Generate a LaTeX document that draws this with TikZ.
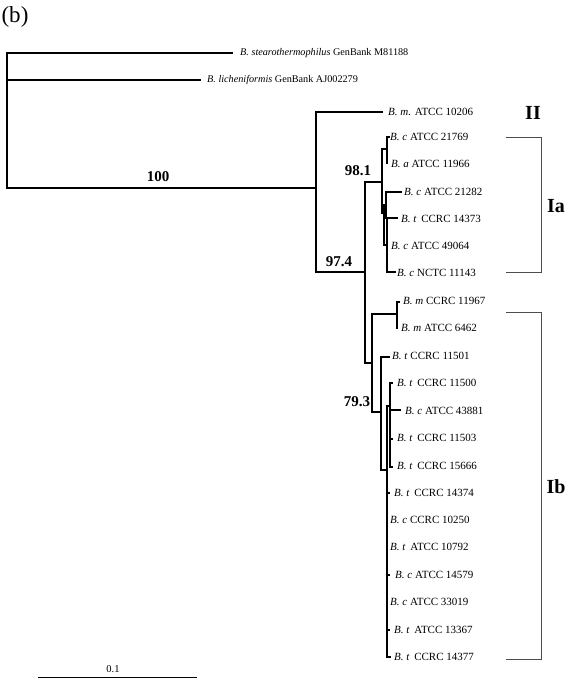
\documentclass[tikz,border=0pt]{standalone}
\usepackage{fontspec}
\setmainfont{Liberation Serif}
\begin{document}
\begin{tikzpicture}[x=1pt,y=-1pt,
  br/.style={line width=1.6pt,line cap=rect},
  grp/.style={line width=0.8pt,draw=black!70},
  leaf/.style={anchor=west,inner sep=0pt,font=\fontsize{11}{13}\selectfont},
  topleaf/.style={anchor=west,inner sep=0pt,font=\fontsize{10.2}{12}\selectfont},
  boot/.style={inner sep=0pt,font=\fontsize{15}{17}\bfseries},
  clade/.style={inner sep=0pt,font=\fontsize{20}{22}\bfseries}]
\useasboundingbox (0,0) rectangle (576,679);
% title
\node[inner sep=0pt,font=\fontsize{23}{25}\selectfont] (title) at (15,17) {(b)};
% leaf labels
\node[topleaf] (s1) at (240,53) {\textit{B. stearothermophilus} GenBank M81188};
\node[topleaf] (s2) at (207,80) {\textit{B. licheniformis} GenBank AJ002279};
\node[leaf] (s3) at (388,112) {\textit{B. m.} ATCC 10206};
\node[leaf] (l1) at (390,137) {\textit{B. c} ATCC 21769};
\node[leaf] (l2) at (391,164) {\textit{B. a} ATCC 11966};
\node[leaf] (l3) at (404,192) {\textit{B. c} ATCC 21282};
\node[leaf] (l4) at (401,219) {\textit{B. t}\, CCRC 14373};
\node[leaf] (l5) at (391,246) {\textit{B. c} ATCC 49064};
\node[leaf] (l6) at (397,273) {\textit{B. c} NCTC 11143};
\node[leaf] (l7) at (403,301) {\textit{B. m} CCRC 11967};
\node[leaf] (l8) at (401,328) {\textit{B. m} ATCC 6462};
\node[leaf] (l9) at (392,356) {\textit{B. t} CCRC 11501};
\node[leaf] (l10) at (397,383) {\textit{B. t}\, CCRC 11500};
\node[leaf] (l11) at (405,411) {\textit{B. c} ATCC 43881};
\node[leaf] (l12) at (397,438) {\textit{B. t}\, CCRC 11503};
\node[leaf] (l13) at (397,466) {\textit{B. t}\, CCRC 15666};
\node[leaf] (l14) at (394,493) {\textit{B. t}\, CCRC 14374};
\node[leaf] (l15) at (390,520) {\textit{B. c} CCRC 10250};
\node[leaf] (l16) at (390,547) {\textit{B. t}\, ATCC 10792};
\node[leaf] (l17) at (395,575) {\textit{B. c} ATCC 14579};
\node[leaf] (l18) at (390,602) {\textit{B. c} ATCC 33019};
\node[leaf] (l19) at (394,630) {\textit{B. t}\, ATCC 13367};
\node[leaf] (l20) at (394,657) {\textit{B. t}\, CCRC 14377};
% bootstrap values
\node[boot] (b100) at (158,177) {100};
\node[boot] (b974) at (339,262) {97.4};
\node[boot] (b981) at (358,171) {98.1};
\node[boot] (b793) at (357,402) {79.3};
% root and outgroups
\draw[br] (7,53) -- (7,188);
\draw[br] (7,53) -- (232,53);
\draw[br] (7,80) -- (200,80);
\draw[br] (7,188) -- (316,188);
\draw[br] (316,112) -- (316,272);
\draw[br] (316,112) -- (382,112);
\draw[br] (316,272) -- (365,272);
\draw[br] (365,182) -- (365,363);
% clade Ia
\draw[br] (365,182) -- (382,182);
\draw[br] (382,149) -- (382,213);
\draw[br] (382,149) -- (387,149);
\draw[br] (387,137) -- (387,163);
\draw[br] (387,137) -- (389,137);
\draw[br] (382,213) -- (384,213);
\draw[br] (384,205) -- (384,245);
\draw[br] (384,205) -- (386,205);
\draw[br] (386,192) -- (386,218);
\draw[br] (386,192) -- (401,192);
\draw[br] (386,218) -- (397,218);
\draw[br] (384,245) -- (387,245);
\draw[br] (387,218) -- (387,272);
\draw[br] (387,272) -- (395,272);
% clade Ib
\draw[br] (365,363) -- (372,363);
\draw[br] (372,314) -- (372,412);
\draw[br] (372,314) -- (397,314);
\draw[br] (397,302) -- (397,328);
\draw[br] (397,302) -- (399,302);
\draw[br] (372,412) -- (381,412);
\draw[br] (381,357) -- (381,470);
\draw[br] (381,357) -- (389,357);
\draw[br] (381,470) -- (387,470);
\draw[br] (387,406) -- (387,657);
\draw[br] (387,406) -- (390,406);
\draw[br] (390,383) -- (390,467);
\draw[br] (390,383) -- (392,383);
\draw[br] (390,410) -- (400,410);
\draw[br] (390,439) -- (392,439);
\draw[br] (390,467) -- (392,467);
\draw[br] (387,493) -- (389,493);
\draw[br] (387,575) -- (389,575);
\draw[br] (387,630) -- (389,630);
\draw[br] (387,657) -- (390,657);
% group brackets
\draw[grp] (506,137) -- (541,137) -- (541,272) -- (506,272);
\draw[grp] (506,312) -- (541,312) -- (541,659) -- (506,659);
\node[clade] (cII) at (533,113) {II};
\node[clade] (cIa) at (556,206) {Ia};
\node[clade] (cIb) at (556,487) {Ib};
% scale bar
\coordinate (sb1) at (38,677);
\coordinate (sb2) at (197,677);
\draw[line width=0.9pt] (sb1) -- (sb2);
\node[inner sep=0pt,font=\fontsize{10.5}{12}\selectfont] (sbl) at (113,669) {0.1};
\end{tikzpicture}
\end{document}
